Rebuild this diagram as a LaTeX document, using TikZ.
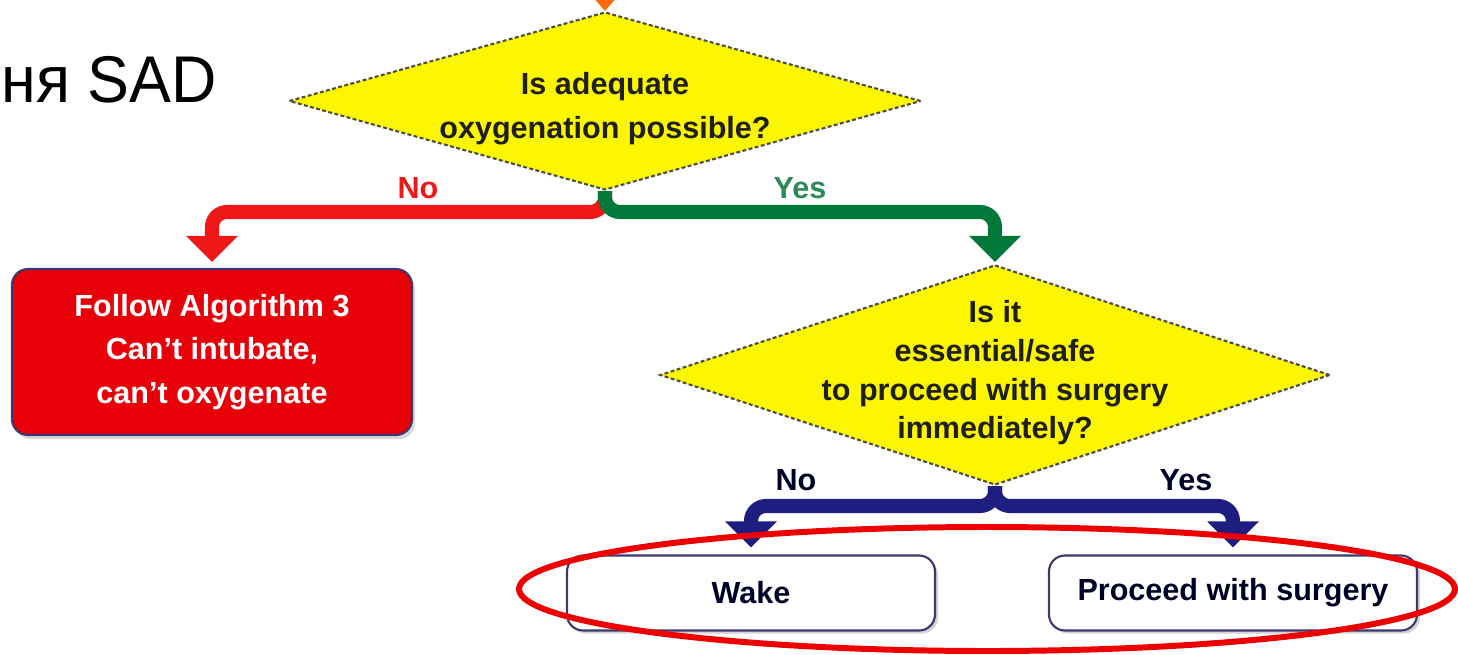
\documentclass[tikz,border=0pt]{standalone}
\usepackage{fontspec}
\setmainfont{Liberation Sans}
\usepackage{graphicx}
\usetikzlibrary{shapes.geometric,arrows.meta,shadows}

\definecolor{qyellow}{HTML}{FCF600}
\definecolor{failred}{HTML}{E80008}
\definecolor{nored}{HTML}{EE1818}
\definecolor{yesgreen}{HTML}{00783A}
\definecolor{yeslabel}{HTML}{2A8A58}
\definecolor{navyline}{HTML}{1E1E80}
\definecolor{entryorange}{HTML}{FF6A10}
\definecolor{ringred}{HTML}{EE0000}
\definecolor{boxedge}{HTML}{3A3A70}

\tikzset{
  question/.style={diamond, shape aspect=1, fill=qyellow, draw=black!70,
    line width=0.6pt, dash pattern=on 1.1pt off 0.7pt, inner sep=0pt},
  qtext/.style={font=\fontsize{8.7}{12.5}\selectfont\bfseries, align=center,
    text=black!88, inner sep=0pt},
  flow/.style={line width=4pt, rounded corners=1.5mm,
    -{Triangle[width=5mm,length=2.6mm]}},
  branchlabel/.style={font=\fontsize{8.7}{10}\selectfont\bfseries, inner sep=0pt},
  endbox/.style={rounded corners=1.6mm, draw=boxedge, line width=0.6pt,
    fill=white, minimum width=36.8mm, minimum height=7.5mm,
    font=\fontsize{8.7}{10}\selectfont\bfseries, text=black!85!blue,
    drop shadow={opacity=0.35, shadow xshift=0.3mm, shadow yshift=-0.3mm}},
  failbox/.style={rounded corners=1.6mm, draw=boxedge, line width=0.6pt,
    fill=failred, minimum width=40mm, minimum height=16.6mm,
    font=\fontsize{8.7}{12.3}\selectfont\bfseries, text=white, align=center,
    drop shadow={opacity=0.3, shadow xshift=0.3mm, shadow yshift=-0.4mm}},
}

\begin{document}
\begin{tikzpicture}[x=0.1mm, y=-0.1mm]
  \useasboundingbox (0,0) rectangle (1458,654);

  % heading fragment
  \node[anchor=base west, inner sep=0pt, font=\fontsize{18.8}{20}\selectfont]
    (title) at (1,102) {\scalebox{0.95}[1]{ня SAD}};

  % decision nodes
  \node[question, minimum width=63.2mm, minimum height=17.8mm] (q1) at (605,101) {};
  \node[qtext] (q1t) at (605,109) {Is adequate\\oxygenation possible?};

  \node[question, minimum width=67mm, minimum height=22mm] (q2) at (995,375) {};
  \node[qtext, font=\fontsize{8.7}{11}\selectfont\bfseries] (q2t) at (995,373)
    {Is it\\essential/safe\\to proceed with surgery\\immediately?};

  % outcome boxes
  \node[failbox] (fail) at (212,352)
    {Follow Algorithm 3\\Can't intubate,\\can't oxygenate};
  \node[endbox] (wake) at (751,593) {Wake};
  \node[endbox] (proceed) at (1233,593) {Proceed with surgery};

  % connector levels
  \coordinate (entry) at (605,-40);
  \coordinate (lvlA) at (0,212);
  \coordinate (lvlB) at (0,506);

  % connectors
  \draw[flow, entryorange, -{Triangle[width=2.2mm,length=1.3mm]}, line width=2pt]
    (entry) -- (q1.north);
  \draw[flow, nored, shorten >=0.6mm] (q1.south) |- (fail.north |- lvlA) -- (fail.north);
  \draw[flow, yesgreen, shorten >=0.2mm] (q1.south) |- (q2.north |- lvlA) -- (q2.north);
  \draw[flow, navyline, shorten >=0.7mm] (q2.south) |- (wake.north |- lvlB) -- (wake.north);
  \draw[flow, navyline, shorten >=0.7mm] (q2.south) |- (proceed.north |- lvlB) -- (proceed.north);

  % branch labels
  \node[branchlabel, text=nored] (noA) at (418,188) {No};
  \node[branchlabel, text=yeslabel] (yesA) at (800,188) {Yes};
  \node[branchlabel, text=black!85!blue] (noB) at (796,480) {No};
  \node[branchlabel, text=black!85!blue] (yesB) at (1186,480) {Yes};

  % highlight ring around the two outcomes
  \draw[ringred, line width=1.7pt] (987,589) ellipse [x radius=46.8mm, y radius=6.2mm];
\end{tikzpicture}
\end{document}
